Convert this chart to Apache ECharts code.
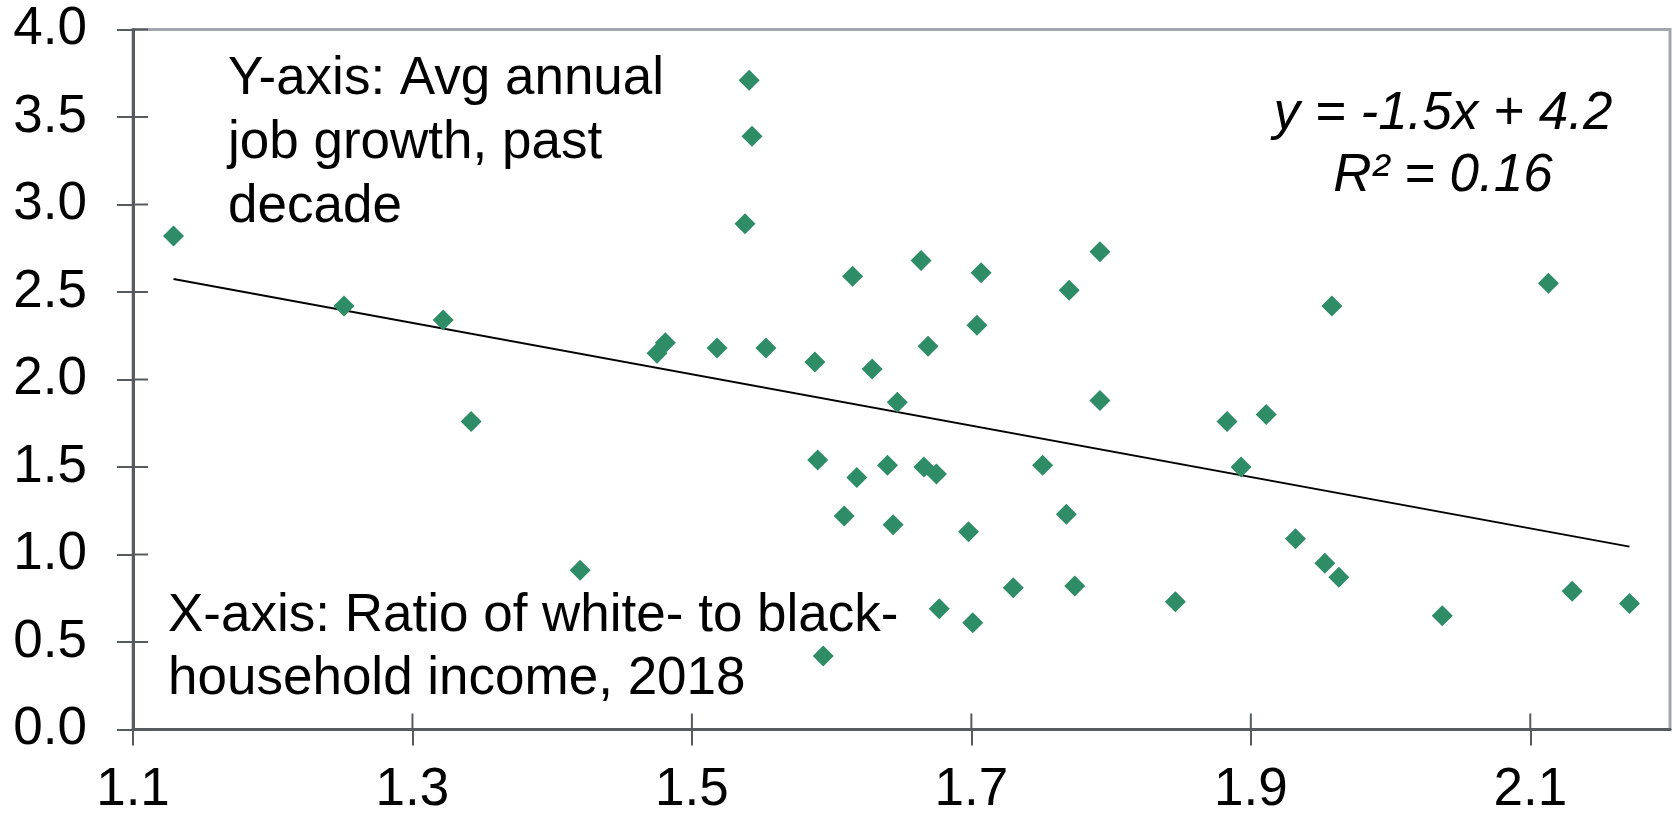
<!DOCTYPE html>
<html>
<head>
<meta charset="utf-8">
<script src="https://cdn.jsdelivr.net/npm/echarts@6/dist/echarts.min.js"></script>
<style>
html,body{margin:0;padding:0;background:#fff;}
#chart{width:1673px;height:814px;}
</style>
</head>
<body>
<div id="chart"></div>
<script>
// Ratio of white- to black- household income, 2018 (x)
var incomeRatio = [1.129,1.251,1.322,1.541,1.543,1.538,1.615,1.664,1.707,1.792,1.770,1.704,1.669,1.629,1.588,1.553,1.518,1.475,1.481,1.958,2.113,1.342,1.420,1.647,1.792,1.590,1.618,1.640,1.666,1.675,1.751,1.609,1.644,1.698,1.768,1.730,1.774,1.677,1.701,1.594,1.883,1.911,1.893,1.932,1.953,1.963,1.846,2.037,2.130,2.171];
// Avg annual job growth, past decade (y)
var jobGrowth = [2.82,2.42,2.34,3.71,3.39,2.89,2.59,2.68,2.61,2.73,2.51,2.31,2.19,2.06,2.10,2.18,2.18,2.15,2.21,2.42,2.55,1.76,0.91,1.87,1.88,1.54,1.44,1.51,1.50,1.46,1.51,1.22,1.17,1.13,1.23,0.81,0.82,0.69,0.61,0.42,1.76,1.80,1.50,1.09,0.95,0.87,0.73,0.65,0.79,0.72];
// Trendline end points
var trendX = [1.129, 2.171];
var trendY = [2.574, 1.045];
var xTickValues = [1.1, 1.3, 1.5, 1.7, 1.9, 2.1];
var yTickValues = [0, 0.5, 1, 1.5, 2, 2.5, 3, 3.5, 4];
var yLabelText = "Y-axis: Avg annual\njob growth, past\ndecade";
var xLabelText = "X-axis: Ratio of white- to black-\nhousehold income, 2018";
var eqText = "y = -1.5x + 4.2\nR\u00b2 = 0.16";

var X_MIN = 1.1, X_MAX = 2.2, Y_MIN = 0, Y_MAX = 4;

var points = incomeRatio.map(function (x, i) { return [x, jobGrowth[i]]; });
var trend = trendX.map(function (x, i) { return [x, trendY[i]]; });

var FONT = "'Liberation Sans', Arial, sans-serif";
var AXIS_COLOR = '#575b60';
var LABEL_SIZE = 53;

var option = {
  animation: false,
  backgroundColor: '#ffffff',
  grid: {
    left: 133, right: 3, top: 29.5, bottom: 84.5,
    outerBoundsMode: 'none', containLabel: false,
    show: true, borderColor: '#a2a6aa', borderWidth: 3, backgroundColor: '#ffffff'
  },
  xAxis: {
    type: 'value', min: X_MIN, max: X_MAX, position: 'bottom', z: 5,
    splitLine: {show: false},
    axisLine: {show: true, onZero: false, lineStyle: {color: AXIS_COLOR, width: 3}},
    axisTick: {show: true, inside: false, length: 16, customValues: xTickValues, lineStyle: {color: AXIS_COLOR, width: 2}},
    axisLabel: {customValues: xTickValues, margin: 34, color: '#000', fontSize: LABEL_SIZE, fontFamily: FONT,
      formatter: function (v) { return v.toFixed(1); }}
  },
  yAxis: {
    type: 'value', min: Y_MIN, max: Y_MAX, interval: 0.5, position: 'left', z: 5,
    splitLine: {show: false},
    axisLine: {show: true, onZero: false, lineStyle: {color: AXIS_COLOR, width: 3}},
    axisTick: {show: true, inside: false, length: 16, lineStyle: {color: AXIS_COLOR, width: 2}},
    axisLabel: {margin: 46, color: '#000', fontSize: LABEL_SIZE, fontFamily: FONT,
      formatter: function (v) { return v.toFixed(1); }}
  },
  series: [{
    type: 'line',
    data: trend, symbol: 'none', silent: true, z: 2,
    lineStyle: {color: '#000000', width: 2}
  }, {
    type: 'scatter',
    data: points, symbol: 'diamond', symbolSize: 21, z: 3,
    itemStyle: {color: '#2e8d66', opacity: 1}
  }]
};

var chart = echarts.init(document.getElementById('chart'), null, {renderer: 'canvas'});
chart.setOption(option);

// Inner halves of the crossing ticks, positioned through the chart's own scales
var tickElements = [];
xTickValues.forEach(function (v, i) {
  var p = chart.convertToPixel({gridIndex: 0}, [v, Y_MIN]);
  tickElements.push({
    type: 'line', id: 'xt' + i, z: 20, silent: true,
    shape: {x1: p[0], y1: p[1], x2: p[0], y2: p[1] - 16},
    style: {stroke: AXIS_COLOR, lineWidth: 2}
  });
});
yTickValues.forEach(function (v, i) {
  var p = chart.convertToPixel({gridIndex: 0}, [X_MIN, v]);
  tickElements.push({
    type: 'line', id: 'yt' + i, z: 20, silent: true,
    shape: {x1: p[0], y1: p[1], x2: p[0] + 15, y2: p[1]},
    style: {stroke: AXIS_COLOR, lineWidth: 2}
  });
});

var textElements = [{
  type: 'text', id: 'ylab', x: 228, y: 47, z: 10,
  style: {text: yLabelText, font: '53px ' + FONT, fill: '#000', lineHeight: 64, align: 'left', verticalAlign: 'top'}
}, {
  type: 'text', id: 'xlab', x: 168, y: 585, z: 10,
  style: {text: xLabelText, font: '53px ' + FONT, fill: '#000', lineHeight: 63, align: 'left', verticalAlign: 'top'}
}, {
  type: 'text', id: 'eq', x: 1443, y: 83, z: 10,
  style: {text: eqText, font: 'italic 53px ' + FONT, fill: '#000', lineHeight: 62, align: 'center', verticalAlign: 'top'}
}];

chart.setOption({graphic: {elements: textElements.concat(tickElements)}});
</script>
</body>
</html>
